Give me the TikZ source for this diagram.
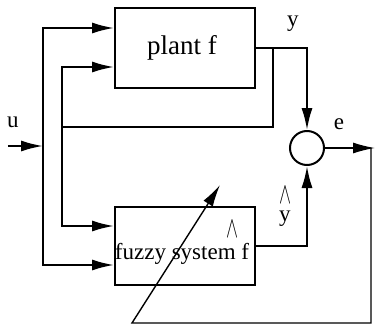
\documentclass[tikz,border=0pt]{standalone}
\usepackage{fontspec}
\setmainfont{Liberation Serif}
\usetikzlibrary{arrows.meta}

\tikzset{
  block/.style={draw,line width=1pt,minimum width=70pt,minimum height=40pt,inner sep=0pt},
  sumnode/.style={draw,circle,line width=1pt,minimum size=17pt,inner sep=0pt},
  arr/.style={-{Latex[length=11pt,width=5.5pt]}},
  lbl/.style={font=\fontsize{11.5}{13}\selectfont,inner sep=0pt}
}
\newcommand{\hatmark}{\scalebox{0.75}[1.25]{$\wedge$}}

\begin{document}
\begin{tikzpicture}[x=0.5pt,y=-0.5pt,line width=1pt]
\useasboundingbox (0,0) rectangle (376,327);
% blocks
\node[block] (plant) at (185,48) {};
\node[lbl,font=\fontsize{13.5}{15}\selectfont] (plantlbl) at (182,48) {plant f};
\node[block,minimum height=39pt] (fuzzy) at (185,246) {};
\node[lbl] (fuzzylbl) at (182,254) {fuzzy system f};
\node[lbl] (fuzzyhat) at (233,229) {\hatmark};
\node[sumnode] (sum) at (307,148) {};
% points
\coordinate (in) at (8,146);
\coordinate (j1) at (43,146);
\coordinate (tap) at (273,48);
\coordinate (j2) at (62,127);
\coordinate (out) at (375,148);
\coordinate (eo) at (371,148);
\coordinate (adj) at (132,323);
\coordinate (tip) at (220,185);
% input u
\draw[arr] (in) -- (j1);
\draw[arr] (j1) |- ([yshift=10pt]plant.west);
\draw[arr] (j1) |- ([yshift=-9.5pt]fuzzy.west);
% fed back plant output
\draw (tap) |- (j2);
\draw[arr] (j2) |- ([yshift=-9.5pt]plant.west);
\draw[arr] (j2) |- ([yshift=10pt]fuzzy.west);
% outputs to comparator
\draw[arr] (plant.east) -| (sum.north);
\draw[arr] (fuzzy.east) -| (sum.south);
\draw[arr,line width=0.7pt] (sum.east) -- (out);
% error adapts fuzzy system
\draw[arr,line width=0.7pt] (eo) |- (adj) -- (tip);
% labels
\node[lbl] (ulbl) at (13,122) {u};
\node[lbl] (ylbl) at (293,24) {y};
\node[lbl] (elbl) at (339,124) {e};
\node[lbl] (yhat) at (285,195) {\hatmark};
\node[lbl] (yhlbl) at (285,219) {y};
\end{tikzpicture}
\end{document}
